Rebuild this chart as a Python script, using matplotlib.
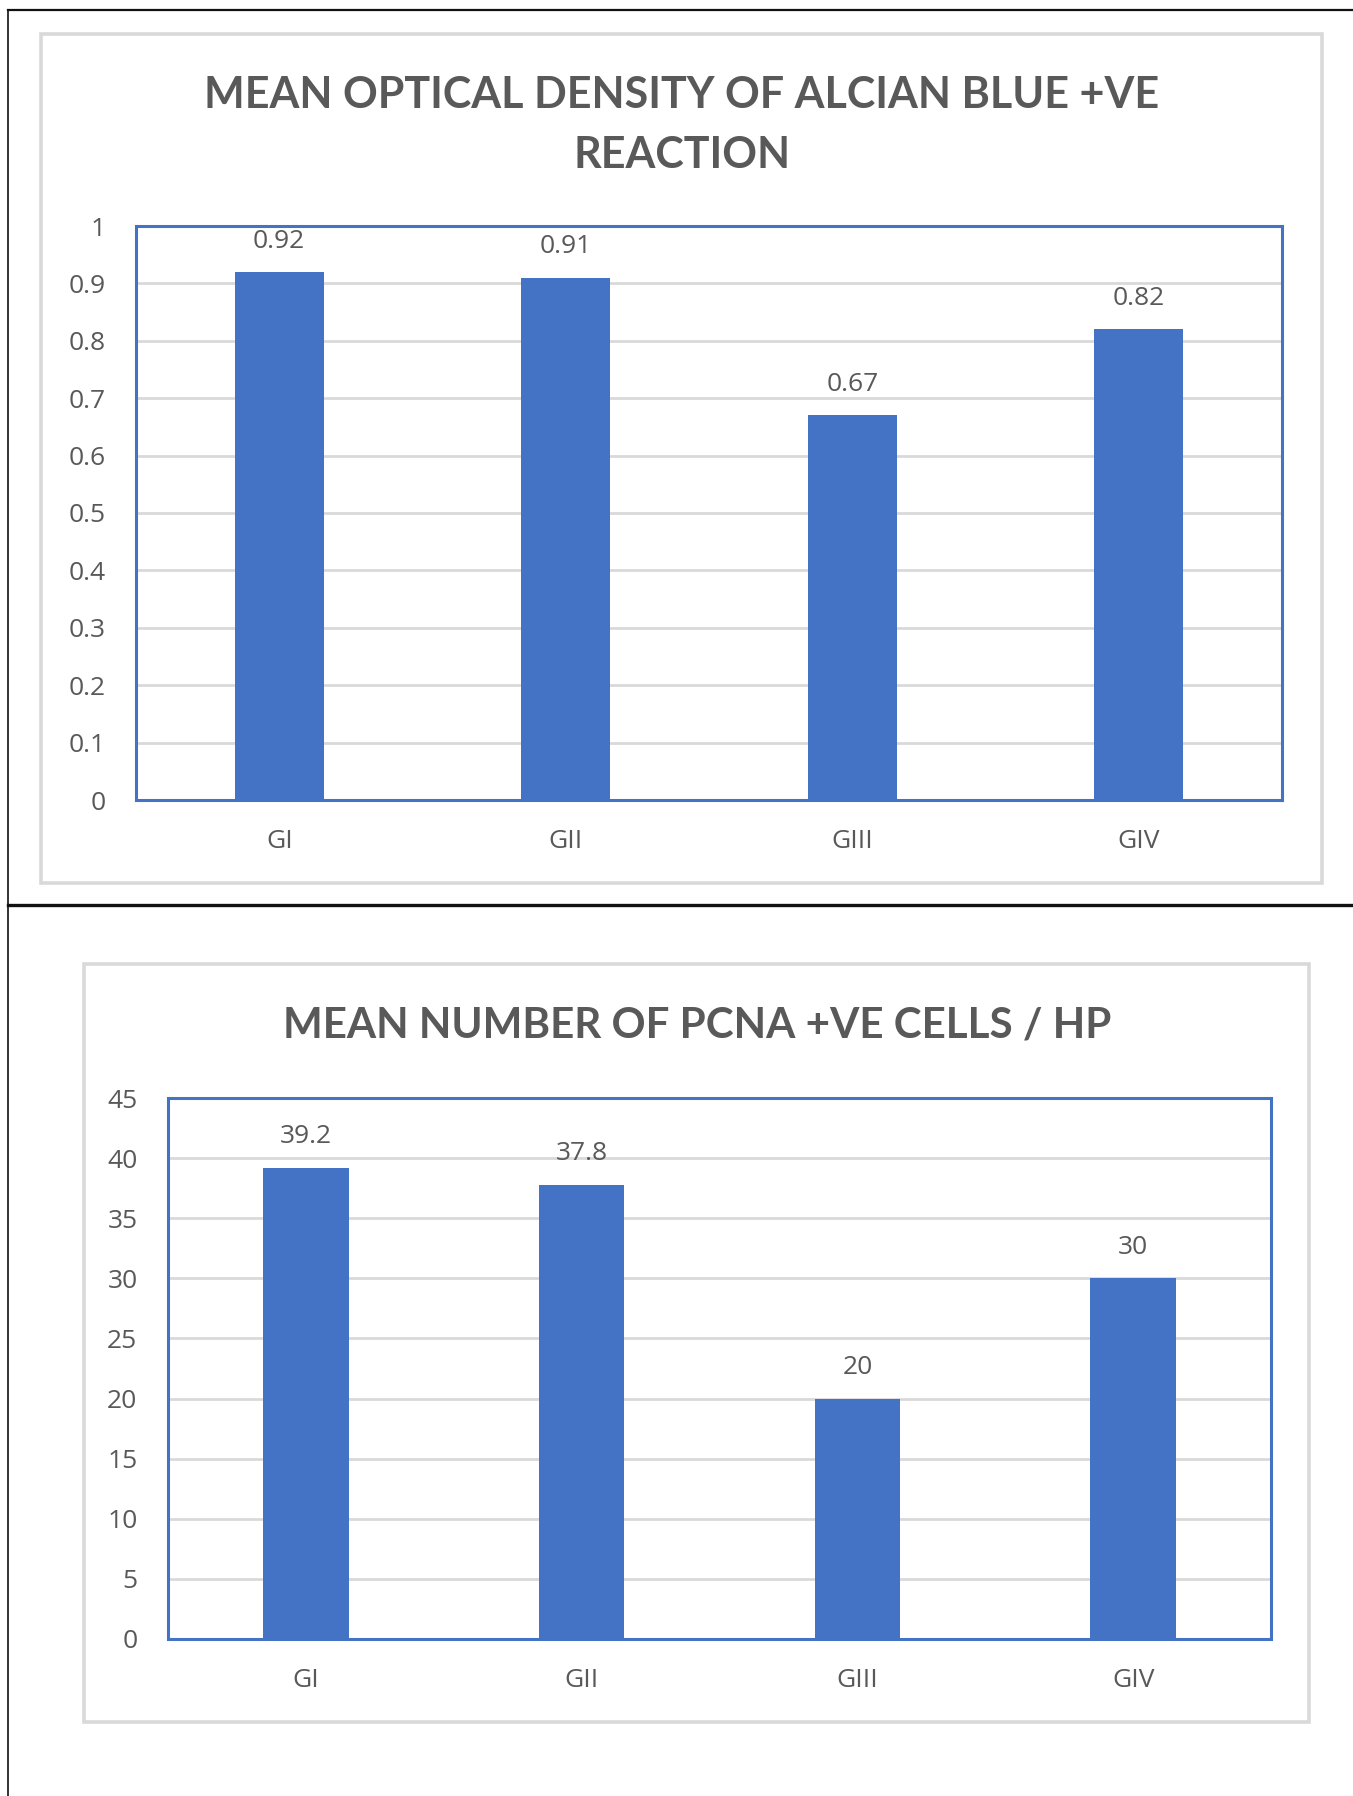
import matplotlib
matplotlib.use("Agg")
import matplotlib.pyplot as plt
from matplotlib.lines import Line2D
from matplotlib.patches import Rectangle

# ---- data ----
groups = ["GI", "GII", "GIII", "GIV"]
optical_density = [0.92, 0.91, 0.67, 0.82]
od_labels = ["0.92", "0.91", "0.67", "0.82"]
od_ticks = [0, 0.1, 0.2, 0.3, 0.4, 0.5, 0.6, 0.7, 0.8, 0.9, 1]
od_ticklabels = ["0", "0.1", "0.2", "0.3", "0.4", "0.5", "0.6", "0.7", "0.8", "0.9", "1"]

pcna_cells = [39.2, 37.8, 20, 30]
pcna_labels = ["39.2", "37.8", "20", "30"]
pcna_ticks = [0, 5, 10, 15, 20, 25, 30, 35, 40, 45]

title_top = ["MEAN OPTICAL DENSITY OF ALCIAN BLUE +VE", "REACTION"]
title_bottom = "MEAN NUMBER OF PCNA +VE CELLS / HP"

# ---- styling ----
W, H = 1353, 1796
BAR = "#4472C4"
GRID = "#D9D9D9"
TEXT = "#595959"
TICK_FONT = "Open Sans"
TITLE_FONT = "Lato"

fig = plt.figure(figsize=(W / 100, H / 100), dpi=100)
fig.patch.set_facecolor("white")


def fx(px):
    return px / W


def fy(py):
    return 1 - py / H


def box(x0, y0, x1, y1):
    return [fx(x0), fy(y1), fx(x1) - fx(x0), fy(y0) - fy(y1)]


def frame_line(xs, ys, color="#111111", lw=1.6):
    fig.add_artist(Line2D([fx(x) for x in xs], [fy(y) for y in ys],
                          transform=fig.transFigure, color=color, lw=lw))


def panel(x0, y0, x1, y1):
    fig.add_artist(Rectangle((fx(x0), fy(y1)), fx(x1) - fx(x0), fy(y0) - fy(y1),
                             transform=fig.transFigure, fill=False,
                             edgecolor=GRID, lw=2.6, zorder=0))


def bar_chart(rect, values, labels, ticks, ticklabels, ymax):
    ax = fig.add_axes(rect)
    x = list(range(len(groups)))
    ax.bar(x, values, width=0.31, color=BAR, zorder=3)
    ax.set_xlim(-0.5, len(groups) - 0.5)
    ax.set_ylim(0, ymax)
    ax.set_yticks(ticks)
    ax.set_yticklabels(ticklabels)
    ax.set_xticks(x)
    ax.set_xticklabels(groups)
    ax.yaxis.grid(True, color=GRID, lw=2.0, zorder=0)
    ax.set_axisbelow(True)
    for s in ax.spines.values():
        s.set_color(BAR)
        s.set_linewidth(2.2)
    ax.tick_params(axis="both", length=0, colors=TEXT, labelsize=19)
    ax.tick_params(axis="y", pad=22)
    ax.tick_params(axis="x", pad=21)
    for t in ax.get_xticklabels() + ax.get_yticklabels():
        t.set_fontfamily(TICK_FONT)
    for xi, v, lab in zip(x, values, labels):
        ax.annotate(lab, (xi, v), xytext=(0, 17.5), textcoords="offset points",
                    ha="center", va="baseline", fontsize=19,
                    family=TICK_FONT, color=TEXT)
    return ax


# outer page frame
frame_line([8, W], [10, 10], lw=1.6)
frame_line([8, 8], [10, H], lw=1.2)
frame_line([8, W], [905, 905], lw=2.4)

# top chart
panel(41, 34, 1322, 883)
fig.text(fx(682), fy(108), title_top[0], ha="center", va="baseline",
         fontsize=31, fontweight="bold", family=TITLE_FONT, color=TEXT)
fig.text(fx(682), fy(168), title_top[1], ha="center", va="baseline",
         fontsize=31, fontweight="bold", family=TITLE_FONT, color=TEXT)
bar_chart(box(136, 226, 1282, 800), optical_density, od_labels,
          od_ticks, od_ticklabels, 1.0)

# bottom chart
panel(84, 964, 1309, 1722)
fig.text(fx(697), fy(1038), title_bottom, ha="center", va="baseline",
         fontsize=30.3, fontweight="bold", family=TITLE_FONT, color=TEXT)
bar_chart(box(168, 1098, 1271, 1639), pcna_cells, pcna_labels,
          pcna_ticks, [str(t) for t in pcna_ticks], 45)

fig.savefig("out.png", dpi=100)
